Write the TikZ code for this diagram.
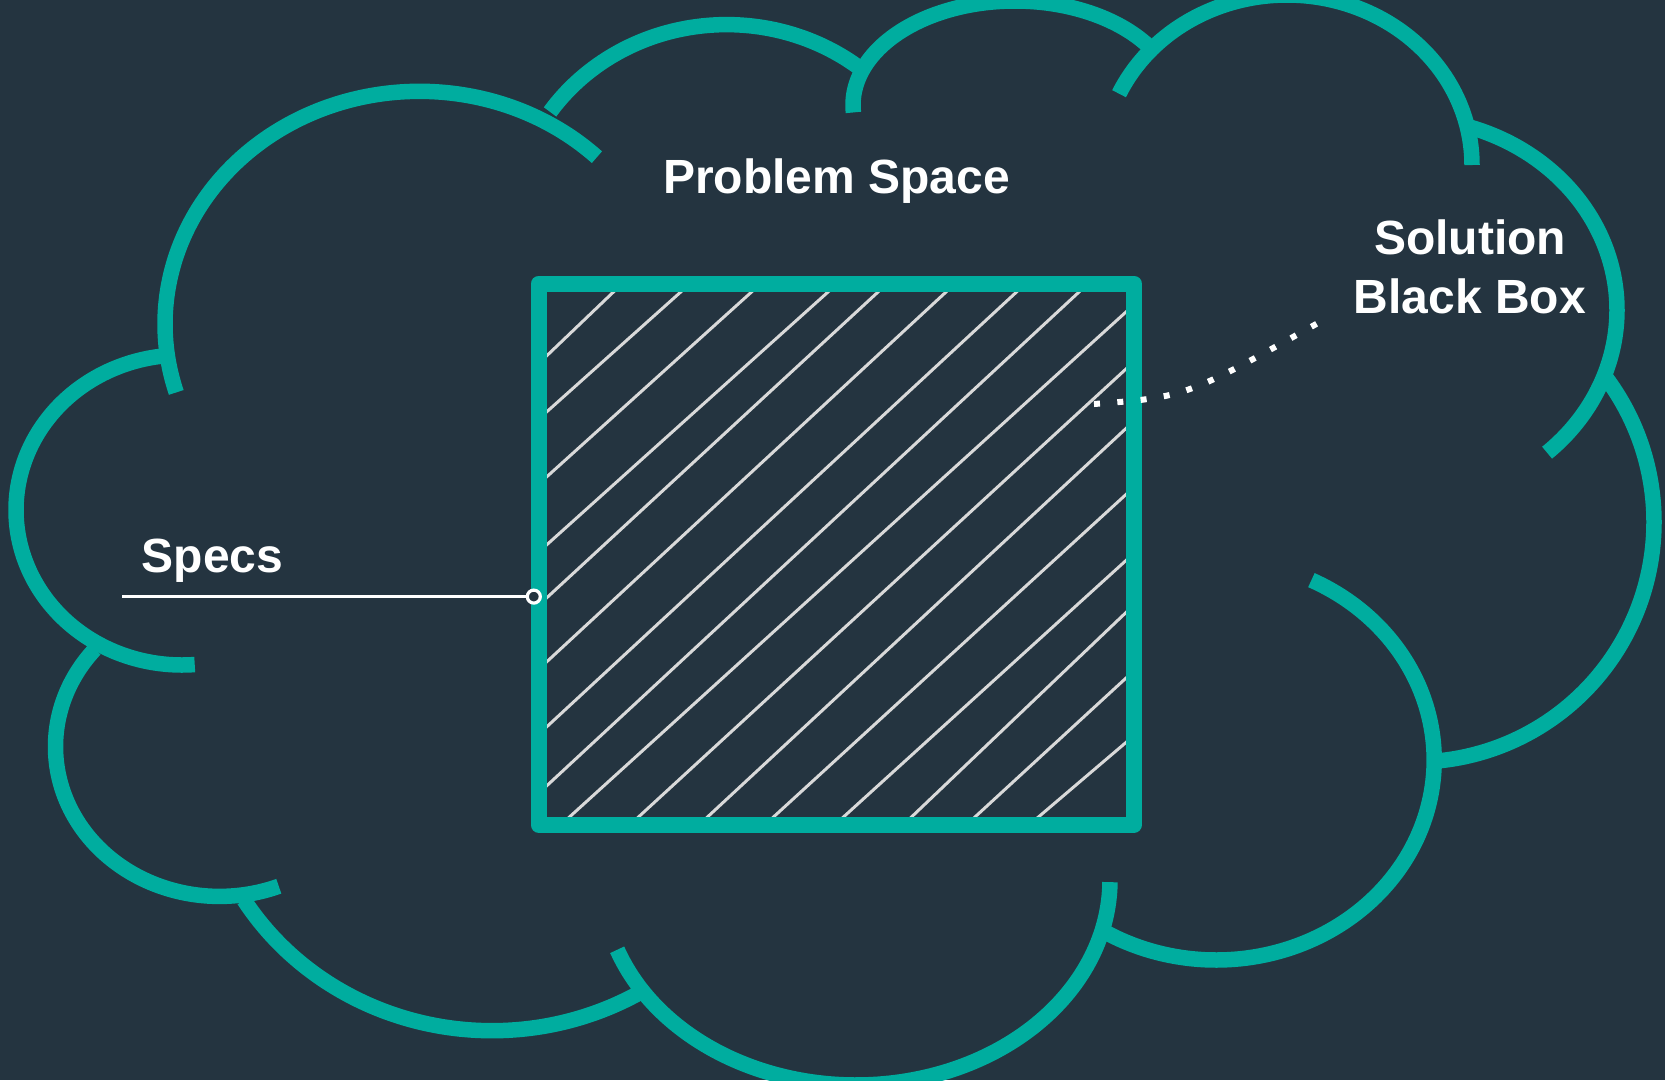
\documentclass[tikz,border=0pt]{standalone}
\usepackage{fontspec}
\setmainfont{Liberation Sans}
\definecolor{bg}{HTML}{243440}
\definecolor{cteal}{HTML}{00AD9F}
\definecolor{hatch}{HTML}{D9D9D9}
\newcommand\cloudarc[6]{\draw[cloudline] plot[domain=#5:#6, samples=120] ({#1+#3*cos(\x)},{#2+#4*sin(\x)});}
\begin{document}
\begin{tikzpicture}[x=1pt,y=-1pt,
  cloudline/.style={draw=cteal, line width=15.5pt, line cap=butt},
  hatchline/.style={draw=hatch, line width=3pt, shorten <=-4pt, shorten >=-4pt},
  boxstyle/.style={draw=cteal, line width=16pt, line join=round, inner sep=0pt, minimum width=595.5pt, minimum height=540.9pt},
  lbl/.style={text=white, font=\fontsize{48}{58.6}\selectfont\bfseries, inner sep=0pt},
  specline/.style={draw=white, line width=3.5pt},
  portstyle/.style={circle, draw=white, fill=bg, line width=3.2pt, minimum size=13pt, inner sep=0pt},
  dotline/.style={draw=white, line width=6pt, dash pattern=on 6pt off 17.4pt}
]
\useasboundingbox (0,0) rectangle (1665,1080);
\fill[bg] (0,0) rectangle (1665,1080);

% hatching inside the box
\draw[hatchline] (546.5,356)--(613.4,292);
\draw[hatchline] (546.5,412)--(680.7,292);
\draw[hatchline] (546.5,477)--(751.5,292);
\draw[hatchline] (546.5,545)--(828,292);
\draw[hatchline] (546.5,598)--(878,292);
\draw[hatchline] (546.5,662)--(946,292);
\draw[hatchline] (546.5,727)--(1016.5,292);
\draw[hatchline] (546.5,786)--(1079,292);
\draw[hatchline] (570,816.5)--(1126.5,311.5);
\draw[hatchline] (639,816.5)--(1126.5,368.5);
\draw[hatchline] (708,816.5)--(1126.5,428);
\draw[hatchline] (774,816.5)--(1126.5,494);
\draw[hatchline] (844,816.5)--(1126.5,560);
\draw[hatchline] (912,816.5)--(1126.5,612);
\draw[hatchline] (975.5,816.5)--(1126.5,677.6);
\draw[hatchline] (1039,816.5)--(1126.5,742);

% the black box
\node[boxstyle] (box) at (836.25,554.15) {};

% cloud outline arcs
\cloudarc{419.5}{324}{254.5}{232.7}{162.9}{314.2}
\cloudarc{726.7}{226.6}{214.6}{202}{214.6}{309.4}
\cloudarc{1015}{105}{162}{104}{175.9}{326.4}
\cloudarc{1287}{165}{185}{170}{204.8}{360}
\cloudarc{1405.7}{310}{211.3}{192}{287.5}{408}
\cloudarc{1415}{522}{239}{240}{322}{444}
\cloudarc{1216.2}{760}{218}{200}{-64.1}{121}
\cloudarc{856}{880}{254}{205}{0.6}{160.1}
\cloudarc{492}{754.4}{291.8}{276.3}{58.5}{148.2}
\cloudarc{219.5}{746.6}{164}{149.8}{68.8}{220.5}
\cloudarc{182}{510}{166}{155}{85.6}{264}

% specs connector
\coordinate (specstart) at (122,596.6);
\node[portstyle] (port) at (533.8,596.6) {};
\draw[specline] (specstart) -- (port);

% dotted pointer
\coordinate (dotS) at (1094,404);
\coordinate (dotE) at (1318,323);
\draw[dotline] (dotS) .. controls (1186,397) .. (dotE);

% labels
\node[lbl, anchor=base] (problem) at (836.4,193.9) {Problem Space};
\node[lbl, anchor=base, align=center] (solution) at (1470,313.4) {Solution\\Black Box};
\node[lbl, anchor=base west] (specs) at (141.6,572.7) {Specs};
\end{tikzpicture}
\end{document}
